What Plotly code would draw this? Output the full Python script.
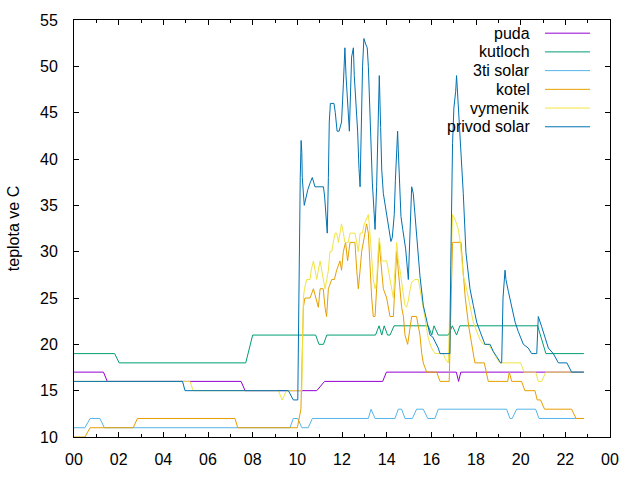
import plotly.graph_objects as go

# ---------------- data (time in hours, temperature in °C) ----------------
puda_t = [0, 1.32, 1.49, 7.48, 7.66, 10.87, 11.22, 13.82, 13.99, 17.12, 17.22, 17.32, 22.83]
puda_v = [17, 17, 16, 16, 15, 15, 16, 16, 17, 17, 16, 17, 17]

kutloch_t = [0, 1.82, 2.02, 7.69, 8.0, 10.82, 10.97, 11.17, 11.32, 13.5, 13.66, 13.78, 13.89,
             14.04, 14.15, 14.33, 15.86, 16.02, 16.12, 16.31, 16.76, 16.94, 17.13, 17.28,
             20.76, 21.13, 22.83]
kutloch_v = [19, 19, 18, 18, 21, 21, 20, 20, 21, 21, 22, 21, 22,
             21, 21, 22, 22, 21, 22, 21, 21, 22, 21, 22,
             22, 19, 19]

solar3_t = [0, 0.49, 0.72, 1.16, 1.36, 9.67, 9.82, 10.02, 10.2, 10.49, 10.67, 13.18, 13.3,
            13.48, 14.37, 14.52, 14.67, 14.82, 15.15, 15.34, 15.64, 15.84, 16.16, 16.31,
            19.37, 19.52, 19.62, 19.82, 20.67, 20.82, 22.83]
solar3_v = [11, 11, 12, 12, 11, 11, 12, 12, 11, 11, 12, 12, 13,
            12, 12, 13, 13, 12, 12, 13, 13, 12, 12, 13,
            13, 12, 12, 13, 13, 12, 12]

kotel_t = [0, 0.49, 0.72, 2.65, 2.84, 7.21, 7.33, 10.0, 10.16, 10.27, 10.34, 10.57, 10.72,
           10.82, 10.94, 11.02, 11.16, 11.24, 11.31, 11.39, 11.54, 11.66, 11.76, 11.91,
           11.98, 12.06, 12.16, 12.25, 12.36, 12.51, 12.58, 12.66, 12.73, 12.81, 12.88,
           13.03, 13.1, 13.18, 13.22, 13.25, 13.3, 13.33, 13.4, 13.48, 13.55, 13.62,
           13.67, 13.7, 13.78, 13.85, 14.0, 14.07, 14.15, 14.3, 14.37, 14.45, 14.52,
           14.6, 14.67, 14.75, 14.82, 14.94, 15.04, 15.12, 15.34, 15.42, 15.49, 15.57,
           15.64, 15.79, 16.24, 16.39, 16.8, 16.95, 17.33, 17.42, 17.52, 17.67, 17.82,
           17.95, 18.37, 18.55, 19.42, 19.49, 19.6, 20.04, 20.19, 20.64, 20.74, 20.89,
           21.07, 22.28, 22.48, 22.83]
kotel_v = [10, 10, 11, 11, 12, 12, 11, 11, 13, 24, 25, 25, 26,
           25, 24, 26, 26, 24, 23, 26, 27, 27, 28, 29,
           28, 30, 31, 29, 31, 31, 31, 28, 26, 28, 30,
           32, 33, 32, 30, 28, 26, 25, 23, 23, 26, 30,
           31, 30, 28, 26, 25, 24, 23, 23, 26, 30, 28,
           26, 24, 23, 21, 20, 22, 23, 23, 22, 21, 19,
           18, 17, 17, 16, 16, 31, 31, 28, 25, 22, 20,
           18, 18, 16, 16, 17, 16, 16, 15, 15, 14, 14,
           13, 13, 12, 12]

vymenik_t = [0, 5.19, 5.34, 9.15, 9.32, 9.52, 10.2, 10.27, 10.32, 10.42, 10.57, 10.62, 10.72,
             10.79, 10.87, 10.94, 11.02, 11.09, 11.16, 11.24, 11.32, 11.39, 11.46, 11.54,
             11.61, 11.69, 11.76, 11.84, 11.91, 11.98, 12.06, 12.13, 12.21, 12.28, 12.36,
             12.51, 12.58, 12.66, 12.73, 12.81, 12.91, 13.0, 13.1, 13.18, 13.22, 13.25,
             13.29, 13.33, 13.4, 13.48, 13.55, 13.62, 13.67, 13.74, 13.78, 14.0, 14.07,
             14.15, 14.22, 14.3, 14.37, 14.45, 14.52, 14.6, 14.67, 14.75, 14.82, 14.89,
             14.97, 15.04, 15.12, 15.27, 15.42, 15.49, 15.57, 15.64, 15.72, 15.79, 15.86,
             16.01, 16.16, 16.54, 16.61, 16.76, 16.86, 16.95, 17.06, 17.21, 17.28, 17.36,
             17.43, 17.55, 17.66, 17.73, 17.88, 18.03, 18.18, 18.33, 18.55, 18.78, 18.92,
             19.07, 20.0, 20.15, 20.67, 20.79, 20.94, 21.13, 22.83]
vymenik_v = [16, 16, 15, 15, 14, 15, 15, 25, 26, 27, 27, 28, 29,
             28, 27, 28, 29, 28, 27, 26, 27, 28, 30, 30,
             31, 32, 32, 31, 32, 33, 32, 31, 31, 31, 32,
             32, 32, 31, 30, 32, 32, 33, 33.6, 34, 33, 32,
             30, 28.5, 27, 26, 26.7, 30, 31.5, 30, 29, 29, 28,
             27, 26, 25, 28, 31, 29, 28, 26.7, 25.3, 24.2, 24,
             24.7, 25.8, 26.7, 27, 27, 26, 25, 24, 22.8, 21.7, 20.7,
             19.6, 19, 19, 18.5, 18, 28, 34, 33.5, 32.4, 31.3, 29.5,
             27.4, 26.3, 25, 24, 22.4, 21.4, 20.5, 20, 20, 19.2, 18.5,
             18, 18, 17, 17, 16, 16, 17, 17]

privod_t = [0, 4.86, 4.97, 9.6, 9.82, 10.02, 10.13, 10.17, 10.2, 10.22, 10.31, 10.37, 10.47,
            10.57, 10.67, 10.79, 11.17, 11.22, 11.27, 11.34, 11.39, 11.43, 11.48, 11.64,
            11.7, 11.78, 11.87, 11.98, 12.06, 12.13, 12.18, 12.28, 12.33, 12.43, 12.51,
            12.55, 12.61, 12.7, 12.76, 12.81, 12.92, 12.98, 13.06, 13.13, 13.18, 13.22,
            13.28, 13.36, 13.43, 13.48, 13.55, 13.62, 13.67, 13.73, 13.78, 13.85, 13.92,
            14.0, 14.07, 14.12, 14.19, 14.25, 14.34, 14.39, 14.45, 14.49, 14.52, 14.57,
            14.64, 14.72, 14.79, 14.85, 14.97, 15.12, 15.19, 15.27, 15.34, 15.49, 15.64,
            15.79, 15.94, 16.06, 16.16, 16.31, 16.39, 16.83, 16.87, 16.91, 16.95, 17.01,
            17.09, 17.13, 17.21, 17.28, 17.36, 17.43, 17.55, 17.66, 17.73, 17.88, 18.03,
            18.18, 18.4, 18.63, 18.78, 18.92, 19.1, 19.15, 19.21, 19.3, 19.34, 19.45,
            19.6, 19.75, 19.89, 20.12, 20.34, 20.49, 20.72, 20.79, 20.94, 21.09, 21.24,
            21.46, 21.69, 22.07, 22.28, 22.83]
privod_v = [16, 16, 15, 15, 14, 14, 38, 42, 40.7, 38, 35, 35.8, 36.7,
            37.4, 38, 37, 37, 36, 34, 32, 38, 44, 46, 46,
            45, 43, 43, 44, 48, 52, 49, 45, 43, 51, 52,
            49, 47, 43, 39, 37, 50, 53, 52.4, 52, 50, 46.6,
            42, 37.4, 34.5, 32.4, 37, 46.6, 49, 43.4, 38.8, 36.3, 35.2,
            34.3, 33.3, 32.2, 31.1, 31.5, 34, 37.7, 41, 43, 41, 38,
            33.8, 32.4, 31, 30.3, 27, 37, 36.3, 33.8, 32.4, 27.4, 24.2,
            22.4, 21, 20.8, 20.3, 19.6, 19, 19, 28.5, 35, 41.7, 45.5,
            47.3, 49, 45.9, 42.7, 39.5, 36.3, 29.9, 27.4, 26, 24.2, 22.4,
            21.4, 20, 20, 19.2, 18.7, 18, 18, 25, 28, 27, 25.7,
            23.9, 22.4, 21.4, 20, 19.6, 19, 19, 23, 21.9, 20.7, 19.6,
            19, 18, 18, 17, 17]

series_names = ["puda", "kutloch", "3ti solar", "kotel", "vymenik", "privod solar"]
series_t = [puda_t, kutloch_t, solar3_t, kotel_t, vymenik_t, privod_t]
series_v = [puda_v, kutloch_v, solar3_v, kotel_v, vymenik_v, privod_v]
series_colors = ["#9400d3", "#009e73", "#56b4e9", "#e69f00", "#f0e442", "#0072b2"]

x_tickvals = list(range(0, 25, 2))
x_ticktext = ["00", "02", "04", "06", "08", "10", "12", "14", "16", "18", "20", "22", "00"]
y_tickvals = list(range(10, 56, 5))

# ---------------- figure ----------------
W, H = 640, 480
ML, MR, MT, MB = 74, 30, 20, 39
PW, PH = W - ML - MR, H - MT - MB
FONT = "Liberation Sans, Arial, sans-serif"
FS = 16

fig = go.Figure()
for name, t, v, c in zip(series_names, series_t, series_v, series_colors):
    fig.add_trace(go.Scatter(x=t, y=v, mode="lines", name=name,
                             line=dict(color=c, width=1), showlegend=False))

# gnuplot-like legend: right-aligned text, line sample to the right
def px_x(px):
    return (px - ML) / PW

def px_y(py):
    return (H - MB - py) / PH

for i, (name, c) in enumerate(zip(series_names, series_colors)):
    yc = 33.3 + i * 18.9
    fig.add_annotation(x=px_x(532), y=px_y(yc), xref="paper", yref="paper",
                       text=name, showarrow=False, xanchor="right", yanchor="middle",
                       font=dict(family=FONT, size=FS, color="black"))
    fig.add_shape(type="line", xref="paper", yref="paper",
                  x0=px_x(545), x1=px_x(590), y0=px_y(yc), y1=px_y(yc),
                  line=dict(color=c, width=1))

fig.update_layout(
    width=W, height=H,
    margin=dict(l=ML, r=MR, t=MT, b=MB),
    paper_bgcolor="white", plot_bgcolor="white",
    font=dict(family=FONT, size=FS, color="black"),
    showlegend=False,
)
fig.update_xaxes(
    range=[0, 24], tickvals=x_tickvals, ticktext=x_ticktext,
    ticks="inside", ticklen=5, tickcolor="black", tickwidth=1,
    minor=dict(ticks="inside", ticklen=3, dtick=1, tick0=0, tickcolor="black", showgrid=False),
    showline=True, linecolor="black", linewidth=1, mirror="ticks",
    showgrid=False, zeroline=False, ticklabelstandoff=8,
)
fig.update_yaxes(
    range=[10, 55], tickvals=y_tickvals,
    ticks="inside", ticklen=5, tickcolor="black", tickwidth=1,
    showline=True, linecolor="black", linewidth=1, mirror="ticks",
    showgrid=False, zeroline=False, ticklabelstandoff=12,
    title=dict(text="teplota ve C", standoff=16, font=dict(size=FS)),
)

fig.write_html("out.html")
